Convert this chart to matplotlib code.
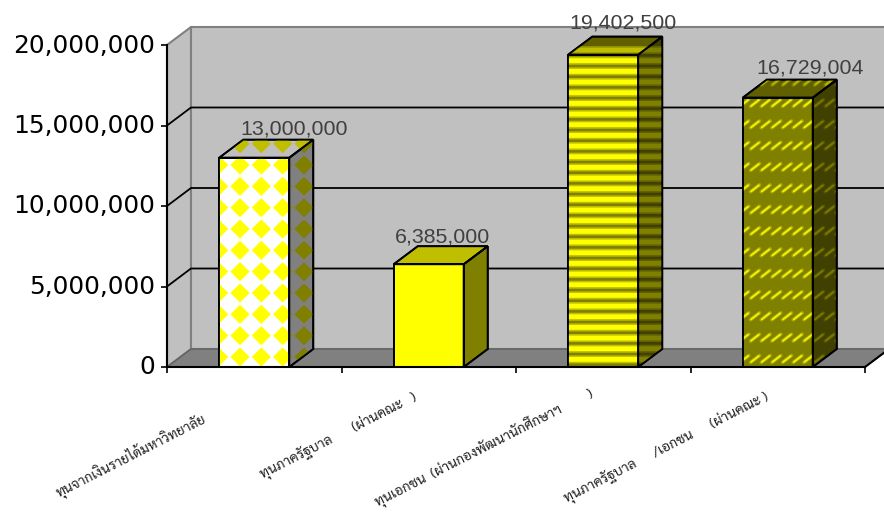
import numpy as np
import matplotlib
matplotlib.use('Agg')
import matplotlib.pyplot as plt
from matplotlib.collections import PolyCollection, LineCollection
from matplotlib.patches import Polygon
from matplotlib.transforms import IdentityTransform, ScaledTranslation

# data
categories = ['ทุนจากเงินรายได้มหาวิทยาลัย',
              'ทุนภาครัฐบาล       (ผ่านคณะ   )',
              'ทุนเอกชน  (ผ่านกองพัฒนานักศึกษาฯ         )',
              'ทุนภาครัฐบาล      /เอกชน      (ผ่านคณะ )']
values = [13000000, 6385000, 19402500, 16729004]
yticks = [0, 5000000, 10000000, 15000000, 20000000]

# layout (pixels)
W, H = 884, 512
LEFT, RIGHT, BASE, TOP = 167, 865, 367, 45
DEPTH_X, DEPTH_Y = 24, 18
label_shift = [(-49, -51), (-13, -30), (-11, -26), (-10, -29)]
value_shift = [(40, 29), (14, 27), (20, 32), (32, 30)]

fig = plt.figure(figsize=(W / 100, H / 100), dpi=100, facecolor='white')
ax = fig.add_axes([LEFT / W, 1 - BASE / H, (RIGHT - LEFT) / W, (BASE - TOP) / H])
ax.set_xlim(0, len(values))
ax.set_ylim(0, yticks[-1])
ax.set_facecolor('none')

dx = DEPTH_X * len(values) / (RIGHT - LEFT)
dy = DEPTH_Y * yticks[-1] / (BASE - TOP)
x_end = len(values)


def shade(color, f):
    return tuple(c * f for c in matplotlib.colors.to_rgb(color))


def face(points, color, z, edge='black', lw=1.3):
    p = Polygon(points, closed=True, facecolor=color, edgecolor=edge,
                linewidth=lw, clip_on=False, zorder=z, joinstyle='miter')
    ax.add_patch(p)
    return p


def add_clipped(coll, patch, z):
    coll.set_transform(IdentityTransform())
    coll.set_zorder(z)
    coll.set_snap(False)
    ax.add_collection(coll, autolim=False)
    coll.set_clip_path(patch)


# textures sit on a screen aligned tile, like the old pattern brushes
def diamonds(patch, color, z):
    polys = []
    r = 9.6
    for px in 240 + 21.33 * np.arange(-4, 32):
        for py in 165 + 21.33 * np.arange(-8, 12):
            sy = H - py
            polys.append([(px - r, sy), (px, sy + r), (px + r, sy), (px, sy - r)])
    add_clipped(PolyCollection(polys, facecolors=[color], edgecolors='none'), patch, z)


def stripes(patch, mid, hi, z):
    for half, color, zz in ((4.0, mid, z), (2.4, hi, z + 0.01)):
        polys = []
        for py in 60.7 + 10.667 * np.arange(-5, 40):
            sy = H - py
            polys.append([(0, sy - half), (W, sy - half), (W, sy + half), (0, sy + half)])
        add_clipped(PolyCollection(polys, facecolors=[color], edgecolors='none'), patch, zz)


def dashes(patch, soft, hi, z):
    for width, half, color, zz in ((3.6, 1.0, soft, z), (2.0, 0.85, hi, z + 0.01)):
        segs = []
        for px in 755 + 10.667 * np.arange(-4, 12):
            for py in 103 + 21.33 * np.arange(-2, 14):
                sy = H - py
                segs.append([(px - 4.5 * half, sy - 3.5 * half), (px + 4.5 * half, sy + 3.5 * half)])
        add_clipped(LineCollection(segs, colors=[color], linewidths=width * 0.72, capstyle='round'), patch, zz)


# walls and floor
face([(0, 0), (dx, dy), (dx, yticks[-1] + dy), (0, yticks[-1])], '#c0c0c0', 1, '#808080', 1.5)
face([(dx, dy), (x_end + dx, dy), (x_end + dx, yticks[-1] + dy), (dx, yticks[-1] + dy)], '#c0c0c0', 1, '#808080', 1.5)
face([(0, 0), (x_end, 0), (x_end + dx, dy), (dx, dy)], '#808080', 1.5, '#606060', 1.0)

for t in yticks[1:-1]:
    ax.plot([0, dx, x_end + dx], [t, t + dy, t + dy], color='black', lw=1.3, clip_on=False, zorder=2)
ax.plot([x_end, x_end + dx], [0, dy], color='black', lw=1.5, clip_on=False, zorder=2)

# bars
BAR_W = 70 * len(values) / (RIGHT - LEFT)
front_colors = ['#ffffff', '#ffff00', '#808000', '#808000']
for i, v in enumerate(values):
    x0 = i + 0.5 - BAR_W / 2
    x1 = i + 0.5 + BAR_W / 2
    base = front_colors[i]
    z = 3 + i
    front = face([(x0, 0), (x1, 0), (x1, v), (x0, v)], base, z + 0.1)
    side = face([(x1, 0), (x1 + dx, dy), (x1 + dx, v + dy), (x1, v)], shade(base, 0.5), z + 0.1)
    top = face([(x0, v), (x1, v), (x1 + dx, v + dy), (x0 + dx, v + dy)], shade(base, 0.75), z + 0.1)
    faces = ((front, 1.0), (side, 0.5), (top, 0.75))
    for patch, f in faces:
        if i == 0:
            diamonds(patch, shade('#ffff00', f), z + 0.2)
        elif i == 2:
            stripes(patch, shade('#c0c000', f), shade('#ffff00', f), z + 0.2)
        elif i == 3:
            dashes(patch, shade('#a8a800', f), shade('#f0f000', f), z + 0.2)
    # outline again over the texture
    for patch, f in faces:
        xy = patch.get_xy()
        ax.add_patch(Polygon(xy, closed=True, fill=False, edgecolor='black', linewidth=1.3,
                             clip_on=False, zorder=z + 0.4, joinstyle='miter'))
    ax.annotate(f'{v:,}', xy=(i + 0.5, v), xytext=value_shift[i], textcoords='offset pixels',
                ha='center', va='center', fontsize=15.4, family='Liberation Sans',
                color='#404040', zorder=20, annotation_clip=False)

# axes
for s in ('top', 'right'):
    ax.spines[s].set_visible(False)
for s in ('left', 'bottom'):
    ax.spines[s].set_linewidth(1.5)
    ax.spines[s].set_zorder(15)
ax.set_xticks(np.arange(len(values) + 1))
ax.set_xticklabels([])
ax.tick_params(axis='both', length=4, width=1.2, pad=4, zorder=15)
ax.set_yticks(yticks)
ax.set_yticklabels([f'{t:,}' for t in yticks], fontsize=17.9, family='DejaVu Sans', color='black')
up = ScaledTranslation(-1 / 100, 2 / 100, fig.dpi_scale_trans)
for lab in ax.get_yticklabels():
    lab.set_transform(lab.get_transform() + up)

for i, label in enumerate(categories):
    ax.annotate(label, xy=(i + 0.5, 0), xytext=label_shift[i], textcoords='offset pixels',
                ha='right', va='center', rotation=27, rotation_mode='anchor',
                fontsize=10, family=['Sarabun', 'Loma', 'DejaVu Sans'],
                color='#202020', annotation_clip=False)

fig.savefig('out.png', dpi=100)
